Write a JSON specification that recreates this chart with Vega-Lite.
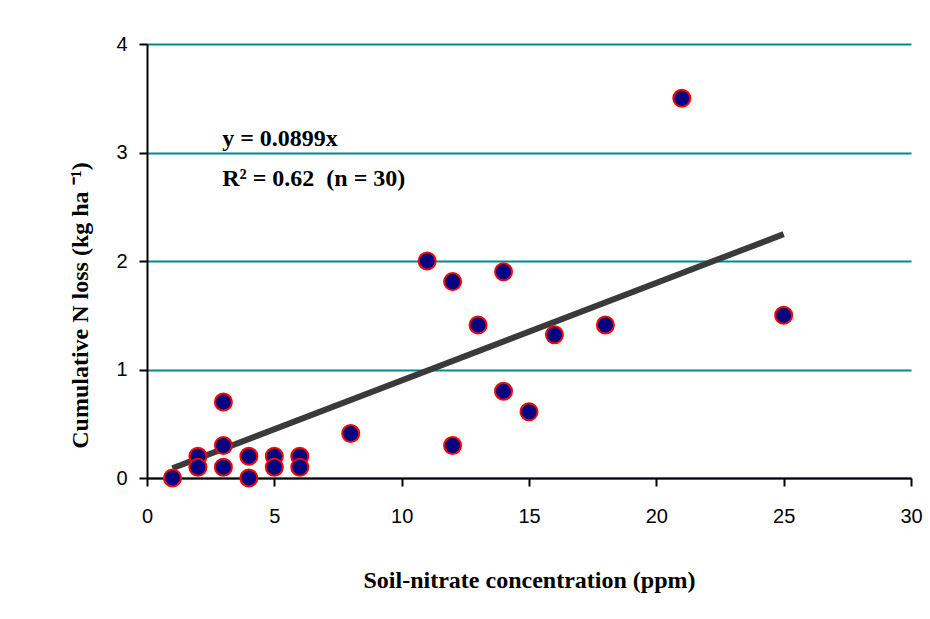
{
  "$schema": "https://vega.github.io/schema/vega-lite/v6.json",
  "width": 764,
  "height": 434,
  "autosize": {"type": "none"},
  "padding": {"left": 147, "top": 44, "right": 19, "bottom": 141},
  "background": "white",
  "config": {"view": {"stroke": null}},
  "datasets": {
    "points": [
      {"x": 1, "y": 0.0},
      {"x": 2, "y": 0.2},
      {"x": 2, "y": 0.1},
      {"x": 3, "y": 0.7},
      {"x": 3, "y": 0.3},
      {"x": 3, "y": 0.1},
      {"x": 4, "y": 0.2},
      {"x": 4, "y": 0.0},
      {"x": 5, "y": 0.2},
      {"x": 5, "y": 0.1},
      {"x": 6, "y": 0.2},
      {"x": 6, "y": 0.1},
      {"x": 8, "y": 0.41},
      {"x": 11, "y": 2.0},
      {"x": 12, "y": 1.81},
      {"x": 12, "y": 0.3},
      {"x": 13, "y": 1.41},
      {"x": 14, "y": 1.9},
      {"x": 14, "y": 0.8},
      {"x": 15, "y": 0.61},
      {"x": 16, "y": 1.32},
      {"x": 18, "y": 1.41},
      {"x": 21, "y": 3.5},
      {"x": 25, "y": 1.5}
    ],
    "trend": [{"x": 1, "y": 0.0899}, {"x": 25, "y": 2.2475}],
    "notes": [
      {"x": 2.95, "y": 3.06, "label": "y = 0.0899x"},
      {"x": 2.95, "y": 2.69, "label": "R² = 0.62\u00a0 (n = 30)"}
    ]
  },
  "layer": [
    {
      "data": {"name": "trend"},
      "mark": {"type": "line", "color": "#3a3a3a", "strokeWidth": 6},
      "encoding": {
        "x": {
          "field": "x", "type": "quantitative",
          "scale": {"domain": [0, 30], "nice": false},
          "axis": {
            "values": [0, 5, 10, 15, 20, 25, 30],
            "format": "d",
            "grid": false,
            "domainColor": "black", "domainWidth": 2,
            "tickColor": "black", "tickWidth": 2, "tickSize": 8,
            "labelFont": "Liberation Sans", "labelFontSize": 20, "labelColor": "black",
            "labelPadding": 20, "labelFlush": false, "labelOverlap": false,
            "title": "Soil-nitrate concentration (ppm)",
            "titleFont": "Liberation Serif", "titleFontWeight": "bold", "titleFontSize": 24,
            "titleColor": "black", "titleBaseline": "top", "titleY": 90
          }
        },
        "y": {
          "field": "y", "type": "quantitative",
          "scale": {"domain": [0, 4], "nice": false},
          "axis": {
            "values": [0, 1, 2, 3, 4],
            "format": "d",
            "grid": true, "gridColor": "#008b8b", "gridWidth": 2,
            "domainColor": "black", "domainWidth": 2,
            "tickColor": "black", "tickWidth": 2, "tickSize": 8,
            "labelFont": "Liberation Sans", "labelFontSize": 20, "labelColor": "black",
            "labelPadding": 12, "labelFlush": false,
            "title": "Cumulative N loss (kg ha ⁻¹)",
            "titleFont": "Liberation Serif", "titleFontWeight": "bold", "titleFontSize": 24,
            "titleColor": "black", "titleAngle": 270, "titleAlign": "center",
            "titleBaseline": "alphabetic", "titleX": -60, "titleY": 261
          }
        }
      }
    },
    {
      "data": {"name": "points"},
      "mark": {"type": "circle", "fill": "#000080", "stroke": "#ff0000", "strokeWidth": 2, "size": 290, "opacity": 1, "clip": false},
      "encoding": {
        "x": {"field": "x", "type": "quantitative"},
        "y": {"field": "y", "type": "quantitative"}
      }
    },
    {
      "data": {"name": "notes"},
      "mark": {"type": "text", "align": "left", "baseline": "alphabetic", "font": "Liberation Serif", "fontWeight": "bold", "fontSize": 24, "color": "black"},
      "encoding": {
        "x": {"field": "x", "type": "quantitative"},
        "y": {"field": "y", "type": "quantitative"},
        "text": {"field": "label"}
      }
    }
  ]
}
